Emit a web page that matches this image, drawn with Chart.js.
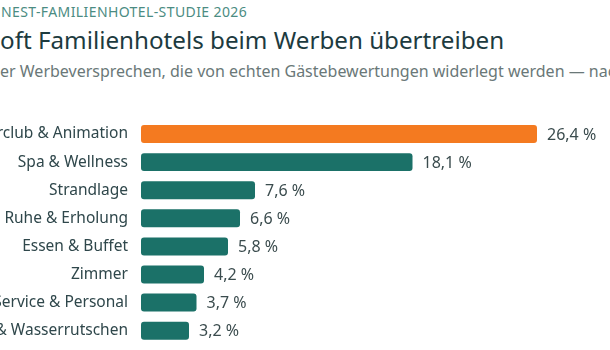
<!DOCTYPE html>
<html lang="de">
<head>
<meta charset="utf-8">
<title>Familienhotel-Studie 2026</title>
<script src="https://cdn.jsdelivr.net/npm/chart.js@4/dist/chart.umd.min.js"></script>
<style>
  html, body { margin: 0; padding: 0; background: #ffffff; }
  body { width: 610px; height: 350px; overflow: hidden; position: relative; font-family: "Noto Sans", sans-serif; }
  .line { position: absolute; white-space: nowrap; line-height: 1; }
  .pre { position: absolute; right: 100%; top: 0; }
  #eyebrow { left: 1px; top: 5px; font-size: 14px; letter-spacing: 0.4px; color: #4b8c82; }
  #title { left: 0px; top: 28px; font-size: 24.2px; color: #1d3b3f; }
  #subtitle { left: 0px; top: 63px; font-size: 16px; color: #6a7878; }
  #chartBox { position: absolute; left: 0; top: 0; width: 610px; height: 367px; }
</style>
</head>
<body>
<div class="line" id="eyebrow"><span class="pre">FERIEN</span>NEST-FAMILIENHOTEL-STUDIE 2026</div>
<div class="line" id="title"><span class="pre">Wie&nbsp;</span>oft Familienhotels beim Werben übertreiben</div>
<div class="line" id="subtitle"><span class="pre">Anteil d</span>er Werbeversprechen, die von echten Gästebewertungen widerlegt werden — nach Kategorie</div>
<div id="chartBox"><canvas id="chart"></canvas></div>

<script>
// Daten: Anteil widerlegter Werbeversprechen je Kategorie (in %)
const kategorien = [
  "Kinderclub & Animation",
  "Spa & Wellness",
  "Strandlage",
  "Ruhe & Erholung",
  "Essen & Buffet",
  "Zimmer",
  "Service & Personal",
  "Pool & Wasserrutschen"
];
const anteile = [26.4, 18.1, 7.6, 6.6, 5.8, 4.2, 3.7, 3.2];
const balkenFarben = ["#f47a20", "#1b7168", "#1b7168", "#1b7168", "#1b7168", "#1b7168", "#1b7168", "#1b7168"];

// Werte rechts neben den Balken schreiben
const wertLabels = {
  id: "wertLabels",
  afterDatasetsDraw(chart) {
    const ctx = chart.ctx;
    const meta = chart.getDatasetMeta(0);
    ctx.save();
    ctx.font = '16px "Noto Sans", sans-serif';
    ctx.fillStyle = "#3b4c4e";
    ctx.textAlign = "left";
    ctx.textBaseline = "middle";
    meta.data.forEach((bar, i) => {
      const text = anteile[i].toFixed(1).replace(".", ",") + " %";
      ctx.fillText(text, bar.x + 10, bar.y + 1);
    });
    ctx.restore();
  }
};

new Chart(document.getElementById("chart"), {
  type: "bar",
  data: {
    labels: kategorien,
    datasets: [{
      data: anteile,
      backgroundColor: balkenFarben,
      borderRadius: 3,
      borderSkipped: false,
      barPercentage: 0.64,
      categoryPercentage: 1.0
    }]
  },
  options: {
    indexAxis: "y",
    responsive: true,
    maintainAspectRatio: false,
    animation: false,
    layout: { padding: { top: 120, bottom: 6, right: 19, left: 0 } },
    plugins: {
      legend: { display: false },
      tooltip: { enabled: false }
    },
    scales: {
      x: {
        display: false,
        min: 0,
        max: 30
      },
      y: {
        afterFit(scale) { scale.width = 141; },
        grid: { display: false, drawTicks: false },
        border: { display: false },
        ticks: {
          padding: 13,
          color: "#2f474b",
          font: { family: "Noto Sans", size: 15.5 }
        }
      }
    }
  },
  plugins: [wertLabels]
});
</script>
</body>
</html>
